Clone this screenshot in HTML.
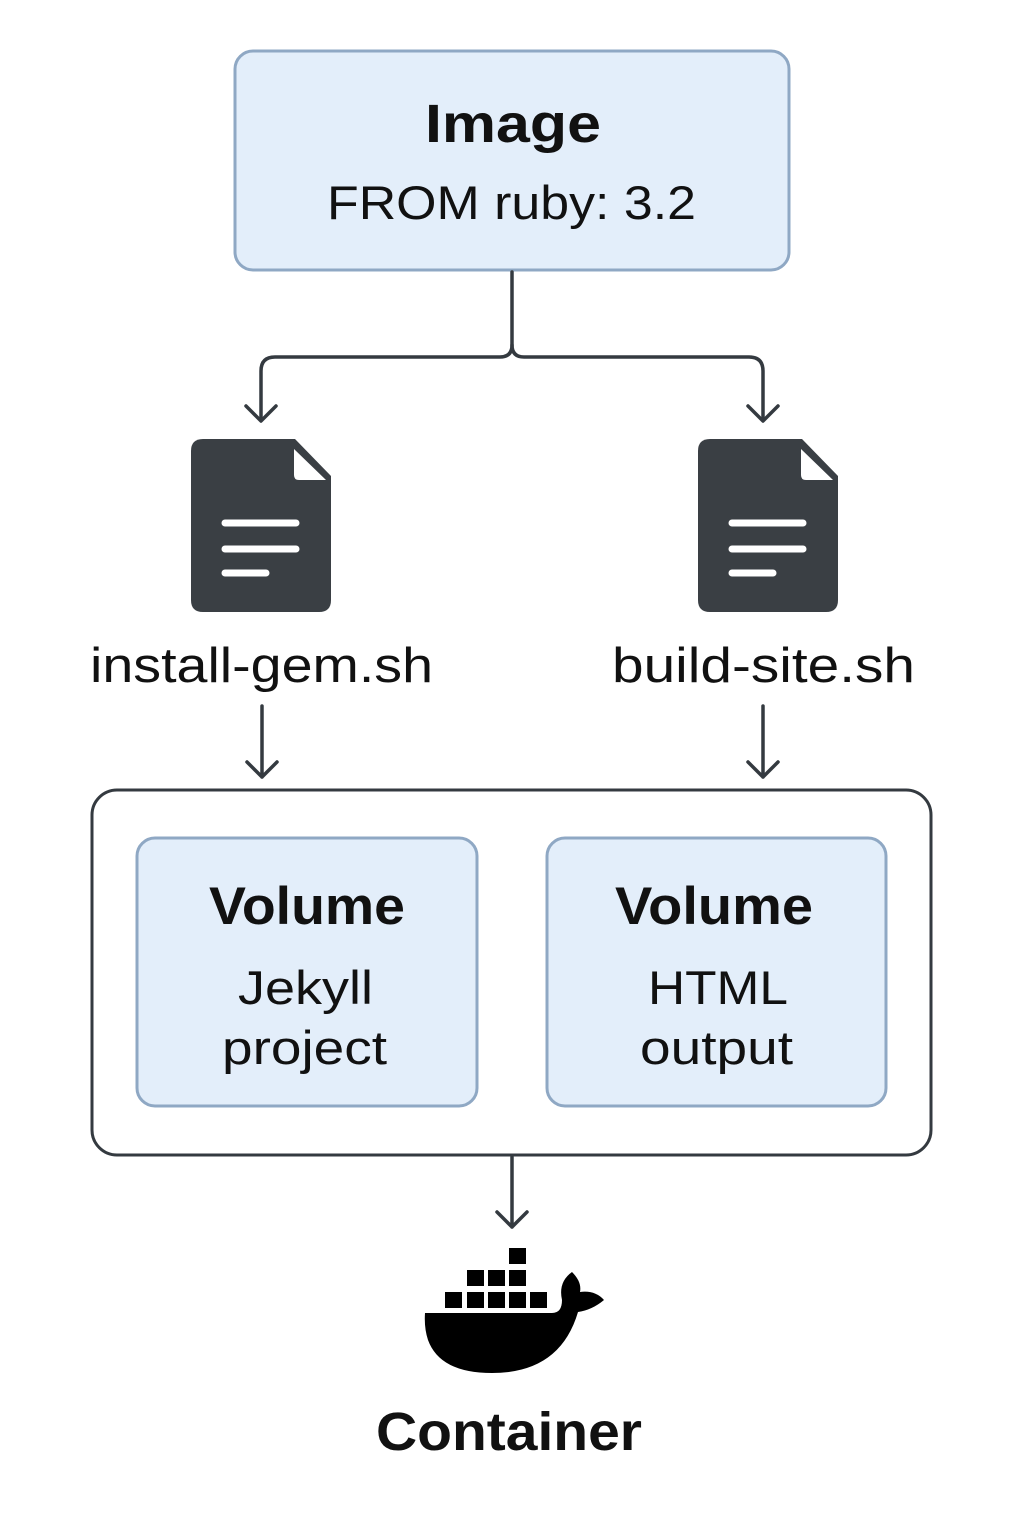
<!DOCTYPE html>
<html><head><meta charset="utf-8"><style>
html,body{margin:0;padding:0;background:#fff}
svg{display:block}
text{font-family:"Liberation Sans","DejaVu Sans",sans-serif;fill:#111}
</style></head><body>
<svg width="1024" height="1536" viewBox="0 0 1024 1536" xmlns="http://www.w3.org/2000/svg">
<rect x="235" y="51" width="554" height="219" rx="18" fill="#e3eefa" stroke="#8fa8c4" stroke-width="3"/>
<text x="425" y="142" font-size="54" font-weight="bold" textLength="176" lengthAdjust="spacingAndGlyphs">Image</text>
<text x="327" y="219" font-size="47" textLength="369" lengthAdjust="spacingAndGlyphs">FROM ruby: 3.2</text>
<g fill="none" stroke="#343a40" stroke-width="3.5" stroke-linecap="round" stroke-linejoin="round">
<path d="M512 272 V345 Q512 357 500 357 H275 Q261 357 261 371 V420"/>
<path d="M512 345 Q512 357 524 357 H749 Q763 357 763 371 V420"/>
<path d="M246 406 L261 421 L276 406"/>
<path d="M748 406 L763 421 L778 406"/>
<path d="M262 706 V777 M247 762 L262 777 L277 762"/>
<path d="M763 706 V777 M748 762 L763 777 L778 762"/>
<path d="M512 1157 V1227 M497 1212 L512 1227 L527 1212"/>
</g>
<g>
<path d="M203 439 H295 L331 476 V600 Q331 612 319 612 H203 Q191 612 191 600 V451 Q191 439 203 439 Z" fill="#3a3f44"/>
<path d="M294 449 L294 475 Q294 480 299 480 L326 480 Z" fill="#fff"/>
<g stroke="#fff" stroke-width="7" stroke-linecap="round"><line x1="225" y1="523" x2="296" y2="523"/><line x1="225" y1="549" x2="296" y2="549"/><line x1="225" y1="573" x2="266" y2="573"/></g>
</g>
<g transform="translate(507 0)">
<path d="M203 439 H295 L331 476 V600 Q331 612 319 612 H203 Q191 612 191 600 V451 Q191 439 203 439 Z" fill="#3a3f44"/>
<path d="M294 449 L294 475 Q294 480 299 480 L326 480 Z" fill="#fff"/>
<g stroke="#fff" stroke-width="7" stroke-linecap="round"><line x1="225" y1="523" x2="296" y2="523"/><line x1="225" y1="549" x2="296" y2="549"/><line x1="225" y1="573" x2="266" y2="573"/></g>
</g>
<text x="90" y="682" font-size="49" textLength="343" lengthAdjust="spacingAndGlyphs">install-gem.sh</text>
<text x="612" y="682" font-size="49" textLength="303" lengthAdjust="spacingAndGlyphs">build-site.sh</text>
<rect x="92" y="790" width="839" height="365" rx="25" fill="#fff" stroke="#343a40" stroke-width="3"/>
<rect x="137" y="838" width="340" height="268" rx="18" fill="#e3eefa" stroke="#8fa8c4" stroke-width="3"/>
<rect x="547" y="838" width="339" height="268" rx="18" fill="#e3eefa" stroke="#8fa8c4" stroke-width="3"/>
<text x="209" y="924" font-size="53" font-weight="bold" textLength="196" lengthAdjust="spacingAndGlyphs">Volume</text>
<text x="238" y="1004" font-size="47" textLength="135" lengthAdjust="spacingAndGlyphs">Jekyll</text>
<text x="222" y="1064" font-size="47" textLength="165" lengthAdjust="spacingAndGlyphs">project</text>
<text x="615" y="924" font-size="53" font-weight="bold" textLength="198" lengthAdjust="spacingAndGlyphs">Volume</text>
<text x="648" y="1004" font-size="47" textLength="140" lengthAdjust="spacingAndGlyphs">HTML</text>
<text x="640" y="1064" font-size="47" textLength="153" lengthAdjust="spacingAndGlyphs">output</text>
<g fill="#000">
<rect x="445" y="1292" width="17" height="16"/><rect x="467" y="1292" width="17" height="16"/><rect x="488" y="1292" width="17" height="16"/><rect x="509" y="1292" width="17" height="16"/><rect x="530" y="1292" width="17" height="16"/>
<rect x="467" y="1270" width="17" height="16"/><rect x="488" y="1270" width="17" height="16"/><rect x="509" y="1270" width="17" height="16"/>
<rect x="509" y="1248" width="17" height="16"/>
<path d="M425 1313 L552 1313 Q562 1313 562 1300 Q558 1282 572 1272 Q582 1282 580 1292 Q595 1290 604 1300 Q592 1310 578 1312 Q560 1373 492 1373 Q440 1373 428 1340 Q424 1328 425 1313 Z"/>
</g>
<text x="376" y="1450" font-size="54" font-weight="bold" textLength="266" lengthAdjust="spacingAndGlyphs">Container</text>
</svg>
</body></html>
